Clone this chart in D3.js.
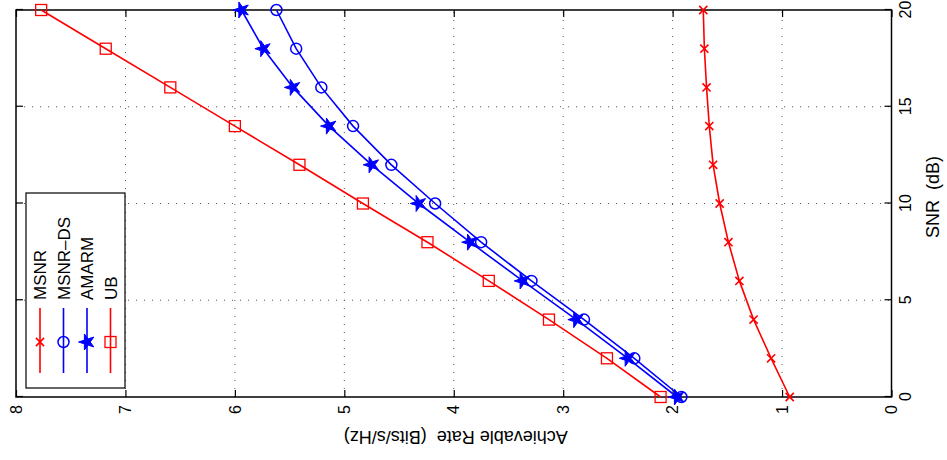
<!DOCTYPE html>
<html>
<head>
<meta charset="utf-8">
<script src="https://cdn.jsdelivr.net/npm/d3@7"></script>
<style>
    body { margin: 0; background: #fff; }
    text { font-family: "Liberation Sans", Arial, sans-serif; white-space: pre; }
</style>
</head>
<body>
<div id="chart"></div>
<script>
// SNR values (dB) and achievable rates
var snr = [0, 2, 4, 6, 8, 10, 12, 14, 16, 18, 20];
var msnr = [0.93, 1.10, 1.26, 1.39, 1.49, 1.57, 1.63, 1.665, 1.69, 1.71, 1.72];
var msnrDs = [1.92, 2.35, 2.81, 3.29, 3.75, 4.17, 4.57, 4.92, 5.21, 5.44, 5.62];
var amarm = [1.96, 2.41, 2.88, 3.37, 3.85, 4.32, 4.75, 5.14, 5.47, 5.74, 5.94];
var ub = [2.11, 2.60, 3.13, 3.68, 4.24, 4.83, 5.41, 6.00, 6.59, 7.18, 7.77];

var snrTicks = [0, 5, 10, 15, 20];
var rateTicks = [0, 1, 2, 3, 4, 5, 6, 7, 8];

var seriesNames = ["MSNR", "MSNR\u2013DS", "AMARM", "UB"];
var seriesData = [msnr, msnrDs, amarm, ub];
var seriesColors = ["#ff0000", "#0000ff", "#0000ff", "#ff0000"];
var seriesMarkers = ["x", "circle", "star", "square"];

var svg = d3.select("#chart").append("svg")
    .attr("width", 947)
    .attr("height", 460);

// the figure is drawn in its normal orientation, then turned a quarter left
var W = 387, H = 875.5;
var g = svg.append("g")
    .attr("transform", "translate(16,397) rotate(-90)");

var x = d3.scaleLinear().domain([0, 20]).range([0, W]);
var y = d3.scaleLinear().domain([0, 8]).range([H, 0]);

// dotted grid
g.append("g").selectAll("line")
    .data(snrTicks.slice(1, -1))
    .enter().append("line")
    .attr("x1", function(d) { return x(d); })
    .attr("x2", function(d) { return x(d); })
    .attr("y1", 0).attr("y2", H)
    .attr("stroke", "#555").attr("stroke-width", 1)
    .attr("stroke-dasharray", "1,7");
g.append("g").selectAll("line")
    .data(rateTicks.slice(1, -1))
    .enter().append("line")
    .attr("y1", function(d) { return y(d); })
    .attr("y2", function(d) { return y(d); })
    .attr("x1", 0).attr("x2", W)
    .attr("stroke", "#555").attr("stroke-width", 1)
    .attr("stroke-dasharray", "1,7");

// axes with inward ticks on all four sides
var tickLen = 7;
var xAxisB = d3.axisBottom(x).tickValues(snrTicks).tickSizeInner(-tickLen).tickSizeOuter(0).tickPadding(8);
var xAxisT = d3.axisTop(x).tickValues(snrTicks).tickSizeInner(-tickLen).tickSizeOuter(0).tickFormat("");
var yAxisL = d3.axisLeft(y).tickValues(rateTicks).tickSizeInner(-tickLen).tickSizeOuter(0).tickPadding(8);
var yAxisR = d3.axisRight(y).tickValues(rateTicks).tickSizeInner(-tickLen).tickSizeOuter(0).tickFormat("");

g.append("g").attr("class", "axis").attr("transform", "translate(0," + H + ")").call(xAxisB);
g.append("g").attr("class", "axis").call(xAxisT);
g.append("g").attr("class", "axis").call(yAxisL);
g.append("g").attr("class", "axis").attr("transform", "translate(" + W + ",0)").call(yAxisR);

g.selectAll(".axis .domain").remove();
g.selectAll(".axis line").attr("stroke", "#000").attr("stroke-width", 1.2);
g.selectAll(".axis text").attr("fill", "#000").style("font-size", "16px");

g.append("rect")
    .attr("width", W).attr("height", H)
    .attr("fill", "none").attr("stroke", "#000").attr("stroke-width", 1.5);

// axis labels
g.append("text")
    .attr("x", 200).attr("y", H + 47)
    .attr("text-anchor", "middle")
    .style("font-size", "18px")
    .text("SNR  (dB)");
g.append("text")
    .attr("transform", "translate(-34," + (H / 2 + 2) + ") rotate(-90)")
    .attr("text-anchor", "middle")
    .style("font-size", "18px")
    .text("Achievable Rate  (Bits/s/Hz)");

function drawMarker(sel, type, color) {
    if (type == "circle") {
        sel.append("circle").attr("r", 5.5)
            .attr("fill", "none").attr("stroke", color).attr("stroke-width", 1.5);
    } else if (type == "square") {
        sel.append("rect").attr("x", -5.5).attr("y", -5.5).attr("width", 11).attr("height", 11)
            .attr("fill", "none").attr("stroke", color).attr("stroke-width", 1.3);
    } else if (type == "star") {
        sel.append("path").attr("d", d3.symbol().type(d3.symbolStar).size(80)())
            .attr("fill", color).attr("stroke", color).attr("stroke-width", 1);
    } else {
        sel.append("path").attr("d", d3.symbol().type(d3.symbolX).size(45)())
            .attr("fill", "none").attr("stroke", color).attr("stroke-width", 1.6);
    }
}

var line = d3.line()
    .x(function(d) { return x(d[0]); })
    .y(function(d) { return y(d[1]); });

seriesData.forEach(function(vals, i) {
    var pts = snr.map(function(s, j) { return [s, vals[j]]; });
    g.append("path")
        .datum(pts)
        .attr("d", line)
        .attr("fill", "none")
        .attr("stroke", seriesColors[i])
        .attr("stroke-width", 1.6);
    g.append("g").selectAll("g")
        .data(pts)
        .enter().append("g")
        .attr("transform", function(d) { return "translate(" + x(d[0]) + "," + y(d[1]) + ")"; })
        .each(function() { drawMarker(d3.select(this), seriesMarkers[i], seriesColors[i]); });
});

// legend, upper left in the unrotated figure
var legend = g.append("g").attr("transform", "translate(9,10)");
legend.append("rect")
    .attr("width", 195).attr("height", 99)
    .attr("fill", "#fff").attr("stroke", "#000").attr("stroke-width", 1.2);
seriesNames.forEach(function(name, i) {
    var row = legend.append("g").attr("transform", "translate(0," + (14 + i * 23.5) + ")");
    row.append("line")
        .attr("x1", 15).attr("x2", 80)
        .attr("stroke", seriesColors[i]).attr("stroke-width", 1.6);
    var m = row.append("g").attr("transform", "translate(46,0)");
    drawMarker(m, seriesMarkers[i], seriesColors[i]);
    row.append("text")
        .attr("x", 88).attr("y", 6)
        .style("font-size", "17px")
        .text(name);
});
</script>
</body>
</html>
